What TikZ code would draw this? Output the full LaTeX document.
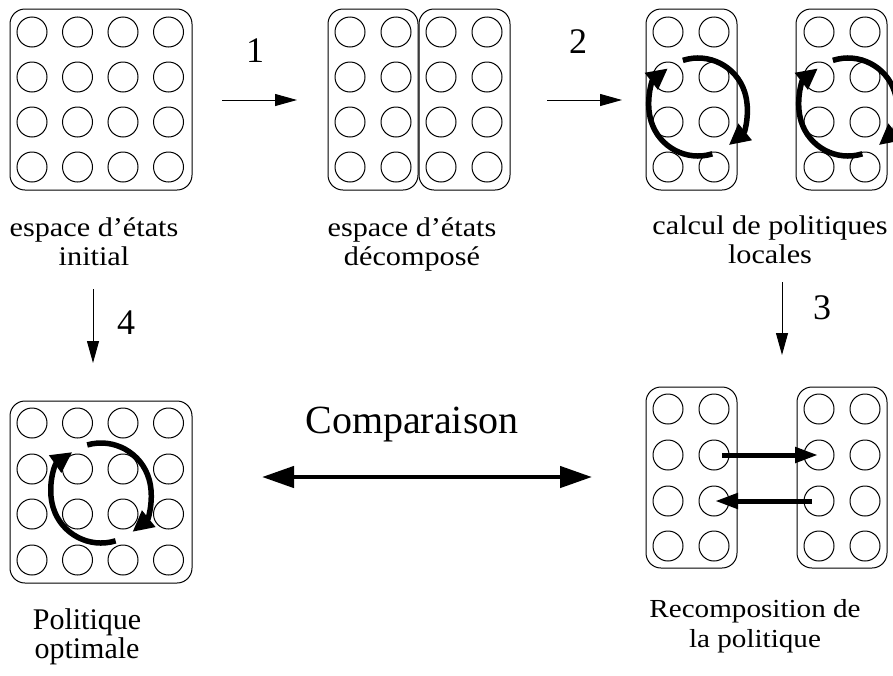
\documentclass[tikz,border=0pt]{standalone}
\usepackage{fontspec}
\setmainfont{Liberation Serif}
\newfontfamily\wideserif[FakeStretch=1.12]{Liberation Serif}
\usetikzlibrary{arrows.meta}

\begin{document}
\begin{tikzpicture}[x=1pt,y=-1pt,
    cell/.style={circle,draw,line width=1pt,minimum size=30pt,inner sep=0pt},
    panel/.style={draw,line width=1pt,rounded corners=15pt},
    thinarrow/.style={line width=1pt,-{Triangle[length=22pt,width=12pt]}},
    looparrow/.style={line width=5.5pt,-{Triangle[length=21pt,width=20pt]}},
    swaparrow/.style={line width=5pt,-{Triangle[length=23pt,width=15pt]}},
    comparrow/.style={line width=4.5pt,{Triangle[length=32pt,width=21pt]}-{Triangle[length=32pt,width=21pt]}},
    toplabel/.style={align=center,anchor=base,inner sep=0pt,font=\wideserif\fontsize{27}{29}\selectfont},
    steplabel/.style={anchor=base,inner sep=0pt,font=\fontsize{36}{36}\selectfont}]
                \useasboundingbox (0,0) rectangle (893,675);
                \clip (0,0) rectangle (893,675);

                % espace initial
                \draw[panel] (10,9) rectangle (192,190);
                \foreach \i in {0,...,3}
                    \foreach \j in {0,...,3}
                        \node[cell] (ini-\i\j) at ({32+45.5*\i},{32+45*\j}) {};
                \node[toplabel] (lab-ini) at (94,265) {espace d’états\\initial};

                % espace decompose
                \draw[panel] (328,9) rectangle (418,190);
                \draw[panel] (419,9) rectangle (510,190);
                \foreach \x [count=\i] in {350,396,441,487}
                    \foreach \j in {0,...,3}
                        \node[cell] (dec-\i\j) at (\x,{32+45*\j}) {};
                \node[toplabel] (lab-dec) at (412,265) {espace d’états\\décomposé};

                % politiques locales
                \draw[panel] (646,9) rectangle (737,190);
                \draw[panel] (796,9) rectangle (887,190);
                \foreach \x [count=\i] in {668,714,819,865}
                    \foreach \j in {0,...,3}
                        \node[cell] (loc-\i\j) at (\x,{32+45*\j}) {};
                \draw[looparrow] (698,107) ++(-108:49) arc[start angle=-108,end angle=51,radius=49];
                \draw[looparrow] (698,107) ++(73:49) arc[start angle=73,end angle=232,radius=49];
                \draw[looparrow] (848,107) ++(-108:49) arc[start angle=-108,end angle=51,radius=49];
                \draw[looparrow] (848,107) ++(73:49) arc[start angle=73,end angle=232,radius=49];
                \node[toplabel] (lab-loc) at (770,263) {calcul de politiques\\locales};

                % politique optimale
                \draw[panel] (10,401) rectangle (192,583);
                \foreach \i in {0,...,3}
                    \foreach \y [count=\j] in {423,469,514,560}
                        \node[cell] (opt-\i\j) at ({32+45.5*\i},\y) {};
                \draw[looparrow] (101,493) ++(-106:50) arc[start angle=-106,end angle=51,radius=50];
                \draw[looparrow] (101,493) ++(73:50) arc[start angle=73,end angle=235,radius=50];
                \node[anchor=base,align=center,inner sep=0pt,font=\fontsize{30}{29}\selectfont] (lab-opt) at (87,658) {Politique\\optimale};

                % recomposition
                \draw[panel] (646,387) rectangle (737,568);
                \draw[panel] (797,387) rectangle (887,568);
                \foreach \x [count=\i] in {668,714,819,865}
                    \foreach \y [count=\j] in {409,455,501,546}
                        \node[cell] (rec-\i\j) at (\x,\y) {};
                \draw[swaparrow] ([xshift=8pt]rec-22.center) -- ([xshift=-1pt]rec-32.center);
                \draw[swaparrow] ([xshift=-7pt]rec-33.center) -- ([xshift=1pt]rec-23.center);
                \node[anchor=base,align=center,inner sep=0pt,font=\wideserif\fontsize{26}{30}\selectfont] (lab-rec) at (755,647) {Recomposition de\\la politique};

                % etapes
                \coordinate (s1a) at (222,100);
                \coordinate (s1b) at (297,100);
                \coordinate (s2a) at (547,100);
                \coordinate (s2b) at (622,100);
                \coordinate (s3a) at (782,282);
                \coordinate (s3b) at (782,355);
                \coordinate (s4a) at (93,289);
                \coordinate (s4b) at (93,363);
                \draw[thinarrow] (s1a) -- (s1b);
                \draw[thinarrow] (s2a) -- (s2b);
                \draw[thinarrow] (s3a) -- (s3b);
                \draw[thinarrow] (s4a) -- (s4b);
                \node[steplabel] (n1) at (255,62) {1};
                \node[steplabel] (n2) at (578,53) {2};
                \node[steplabel] (n3) at (822,319) {3};
                \node[steplabel] (n4) at (126,334) {4};

                % comparaison
                \coordinate (cmpL) at (262,477);
                \coordinate (cmpR) at (592,477);
                \draw[comparrow] (cmpL) -- (cmpR);
                \node[anchor=base,inner sep=0pt,font=\fontsize{40}{40}\selectfont] (lab-cmp) at (412,433) {Comparaison};
            \end{tikzpicture}
\end{document}
